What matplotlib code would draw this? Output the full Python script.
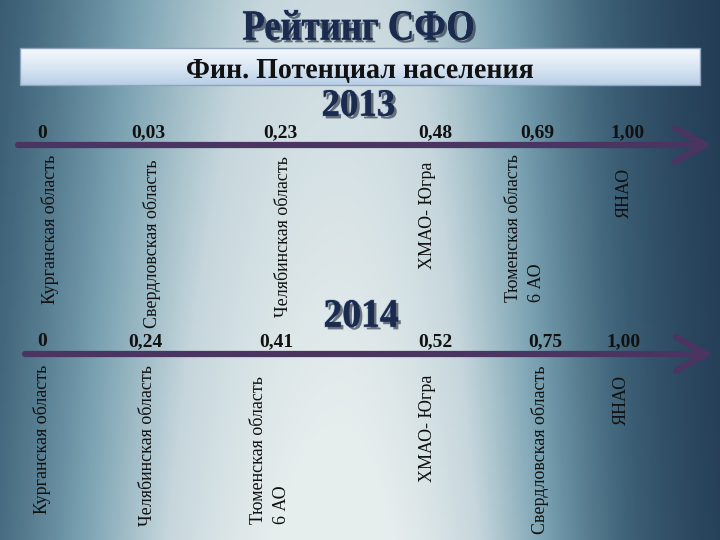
import numpy as np
import matplotlib.pyplot as plt
import matplotlib.patheffects as pe
from matplotlib.colors import LinearSegmentedColormap
from matplotlib.patches import Rectangle, PathPatch
from matplotlib.textpath import TextPath
from matplotlib.font_manager import FontProperties
from matplotlib.transforms import Affine2D

# Data: ratings of SFO regions, 2013 and 2014
title = "Рейтинг СФО"
subtitle = "Фин. Потенциал населения"
years = ["2013", "2014"]

values_2013 = ["0", "0,03", "0,23", "0,48", "0,69", "1,00"]
regions_2013 = ["Курганская область", "Свердловская область", "Челябинская область",
                "ХМАО- Югра", "Тюменская область\n6 АО", "ЯНАО"]

values_2014 = ["0", "0,24", "0,41", "0,52", "0,75", "1,00"]
regions_2014 = ["Курганская область", "Челябинская область", "Тюменская область\n6 АО",
                "ХМАО- Югра", "Свердловская область", "ЯНАО"]

# layout (pixel coords of the slide)
val_x_2013 = [42, 148, 280, 435, 537, 627]
reg_x_2013 = [50, 152, 283, 428, 525, 624]
reg_top_2013 = [155, 160, 156, 162, 154, 168]
val_x_2014 = [42, 145, 276, 435, 545, 623]
reg_x_2014 = [42, 148, 270, 428, 540, 621]
reg_top_2014 = [365, 365, 376, 375, 365, 375]

serif = "Liberation Serif"

fig = plt.figure(figsize=(7.2, 5.4), dpi=100)
ax = fig.add_axes([0, 0, 1, 1])
ax.set_xlim(0, 720)
ax.set_ylim(540, 0)
ax.axis("off")

# background gradient
xx, yy = np.meshgrid(np.linspace(0, 720, 360), np.linspace(0, 540, 270))
sig = np.where(xx < 340, 300, 240)
b = np.exp(-((xx - 340) / sig) ** 2)
b = b * (0.80 + 0.25 * yy / 540)
b = np.clip(b, 0, 1)
bg = LinearSegmentedColormap.from_list("bg", ["#1a3049", "#3f6379", "#7aa2b2", "#c5d6dc", "#e6eded"])
ax.imshow(b, cmap=bg, vmin=0, vmax=1, extent=[0, 720, 540, 0], aspect="auto", zorder=0)

shadow = [pe.withStroke(linewidth=1.2, foreground="#a9bfd2"),
          pe.SimplePatchShadow(offset=(2, -2), shadow_rgbFace="#0c1626", alpha=0.55), pe.Normal()]


def fit_text(s, x0, x1, y0, y1, color, effects=None):
    # bold serif text squeezed into a box, like the condensed slide font
    tp = TextPath((0, 0), s, size=100, prop=FontProperties(family=serif, weight="bold"))
    ext = tp.get_extents()
    tr = Affine2D().translate(-ext.x0, -ext.y1).scale((x1 - x0) / ext.width, -(y1 - y0) / ext.height)
    tr = tr.translate(x0, y0)
    p = PathPatch(tr.transform_path(tp), facecolor=color, edgecolor="none", lw=0, zorder=5)
    if effects:
        p.set_path_effects(effects)
    ax.add_patch(p)


# title
fit_text(title, 243, 473, 10, 40, "#1b2b4f", shadow)

# subtitle banner
grad = np.linspace(0, 1, 50).reshape(-1, 1)
ban = LinearSegmentedColormap.from_list("ban", ["#f4f8fd", "#dbe7f4", "#b9cfe6"])
ax.imshow(grad, cmap=ban, extent=[20, 700, 85, 48], aspect="auto", zorder=2)
ax.add_patch(Rectangle((20, 48), 680, 37, fill=False, edgecolor="#8ea3bf", lw=1, zorder=3))
fit_text(subtitle, 187, 533, 59, 83, "#111111")


def draw_row(year, y_arrow, ybox, x0, x1, vals, vx, regs, rx, rtop):
    fit_text(year, ybox[0], ybox[1], ybox[2], ybox[3], "#1b2b4f", shadow)
    ax.annotate("", xy=(x1, y_arrow), xytext=(x0, y_arrow),
                arrowprops=dict(arrowstyle="->,head_length=1.0,head_width=0.55",
                                color="#4a3461", lw=4.5, mutation_scale=22,
                                shrinkA=0, shrinkB=0), zorder=4)
    for v, x in zip(vals, vx):
        ax.text(x, y_arrow - 12, v, ha="center", va="center", fontsize=14, fontweight="bold",
                family=serif, color="#111111", zorder=5)
    for r, x, t in zip(regs, rx, rtop):
        ax.text(x, t, r, ha="center", va="top", rotation=90, fontsize=13, multialignment="left",
                family=serif, color="#111111", linespacing=1.45, zorder=5)


draw_row(years[0], 145, (323, 394, 90, 116), 18, 712,
         values_2013, val_x_2013, regions_2013, reg_x_2013, reg_top_2013)
draw_row(years[1], 354, (325, 398, 300, 327), 25, 713,
         values_2014, val_x_2014, regions_2014, reg_x_2014, reg_top_2014)

fig.savefig("out.png", dpi=100)
